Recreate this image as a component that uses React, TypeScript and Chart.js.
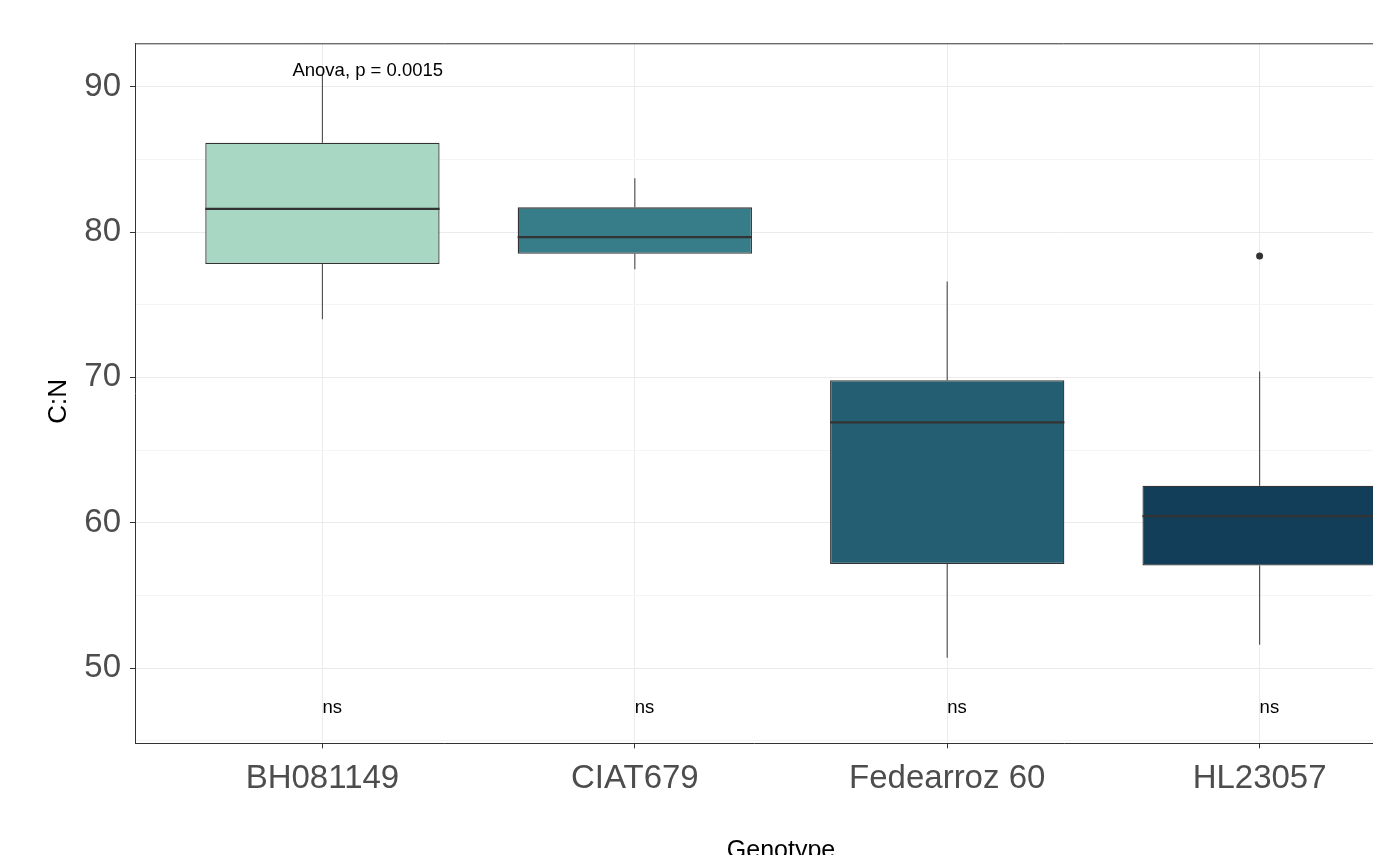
import React, { useEffect, useRef } from 'react';
import { Chart, registerables } from 'chart.js';

Chart.register(...registerables);

// ---- data ----
const categories = ['BH081149', 'CIAT679', 'Fedearroz 60', 'HL23057'];
const whiskerLow = [74.0, 77.45, 50.7, 51.6];
const q1 = [77.8, 78.5, 57.15, 57.05];
const medians = [81.6, 79.65, 66.9, 60.45];
const q3 = [86.15, 81.7, 69.8, 62.55];
const whiskerHigh = [90.9, 83.7, 76.6, 70.4];
const outlierGroup = [3];
const outlierValue = [78.35];
const yTickValues = [45, 50, 55, 60, 65, 70, 75, 80, 85, 90];
const sigLabels = ['ns', 'ns', 'ns', 'ns'];
const sigLabelValue = 46.9;
const anovaText = 'Anova, p = 0.0015';
const anovaAt = { x: -0.096, y: 90.76 };
const xTitle = 'Genotype';
const yTitle = 'C:N';

// ---- styles ----
const boxColors = ['#A8D8C3', '#377C89', '#245E72', '#123E5A'];
const FONT = "'Liberation Sans', Arial, Helvetica, sans-serif";

const boxPlugin = {
  id: 'boxExtras',
  beforeDatasetsDraw(chart: any) {
    const { ctx, chartArea } = chart;
    const xs = chart.scales.x;
    const ys = chart.scales.y;
    ctx.save();
    ctx.beginPath();
    ctx.rect(chartArea.left, chartArea.top, chartArea.right - chartArea.left, chartArea.bottom - chartArea.top);
    ctx.clip();
    ctx.strokeStyle = '#555555';
    ctx.lineWidth = 1.2;
    categories.forEach((_, i) => {
      const px = xs.getPixelForValue(i);
      ctx.beginPath();
      ctx.moveTo(px, ys.getPixelForValue(q3[i]));
      ctx.lineTo(px, ys.getPixelForValue(whiskerHigh[i]));
      ctx.moveTo(px, ys.getPixelForValue(q1[i]));
      ctx.lineTo(px, ys.getPixelForValue(whiskerLow[i]));
      ctx.stroke();
    });
    ctx.restore();
  },
  afterDatasetsDraw(chart: any) {
    const { ctx, chartArea } = chart;
    const xs = chart.scales.x;
    const ys = chart.scales.y;
    const meta = chart.getDatasetMeta(0);
    ctx.save();
    ctx.beginPath();
    ctx.rect(chartArea.left, chartArea.top, chartArea.right - chartArea.left, chartArea.bottom - chartArea.top);
    ctx.clip();
    // medians
    ctx.strokeStyle = '#333333';
    ctx.lineWidth = 2.3;
    categories.forEach((_, i) => {
      const bar: any = meta.data[i];
      const half = bar.width / 2;
      const py = ys.getPixelForValue(medians[i]);
      ctx.beginPath();
      ctx.moveTo(bar.x - half, py);
      ctx.lineTo(bar.x + half, py);
      ctx.stroke();
    });
    ctx.restore();

    // annotations
    ctx.save();
    ctx.fillStyle = '#000000';
    ctx.font = `18.5px ${FONT}`;
    ctx.textAlign = 'left';
    ctx.textBaseline = 'alphabetic';
    sigLabels.forEach((t, i) => {
      ctx.fillText(t, xs.getPixelForValue(i), ys.getPixelForValue(sigLabelValue));
    });
    ctx.fillText(anovaText, xs.getPixelForValue(anovaAt.x), ys.getPixelForValue(anovaAt.y));

    // panel top border
    ctx.strokeStyle = '#333333';
    ctx.lineWidth = 1;
    ctx.beginPath();
    ctx.moveTo(chartArea.left, chartArea.top + 0.5);
    ctx.lineTo(chartArea.right, chartArea.top + 0.5);
    ctx.stroke();

    // axis titles
    ctx.fillStyle = '#000000';
    ctx.font = `25px ${FONT}`;
    ctx.textAlign = 'center';
    ctx.textBaseline = 'alphabetic';
    ctx.fillText(xTitle, xs.getPixelForValue(1.5) - 10, 858);
    ctx.save();
    ctx.translate(66, (chartArea.top + chartArea.bottom) / 2 + 8);
    ctx.rotate(-Math.PI / 2);
    ctx.font = `26px ${FONT}`;
    ctx.fillText(yTitle, 0, 0);
    ctx.restore();
    ctx.restore();
  },
};

export default function App() {
  const ref = useRef<HTMLCanvasElement | null>(null);
  useEffect(() => {
    if (!ref.current) return;
    const chart = new Chart(ref.current, {
      type: 'bar',
      data: {
        datasets: [
          {
            type: 'bar',
            data: categories.map((_, i) => ({ x: i, y: [q1[i], q3[i]] })) as any,
            backgroundColor: boxColors,
            borderColor: '#333333',
            borderWidth: 1.3,
            borderSkipped: false,
            barPercentage: 0.75,
            categoryPercentage: 1,
          } as any,
          {
            type: 'scatter',
            data: outlierGroup.map((g, i) => ({ x: g, y: outlierValue[i] })),
            backgroundColor: '#333333',
            borderWidth: 0,
            pointRadius: 3.5,
          } as any,
        ],
      },
      options: {
        animation: false,
        responsive: true,
        maintainAspectRatio: false,
        layout: { autoPadding: false, padding: { top: 43.3, right: 0, left: 0, bottom: 0 } },
        plugins: { legend: { display: false }, tooltip: { enabled: false } },
        scales: {
          x: {
            type: 'linear',
            min: -0.6,
            max: 3.363,
            offset: false,
            afterBuildTicks: (scale: any) => {
              scale.ticks = categories.map((_, i) => ({ value: i }));
            },
            afterFit: (scale: any) => {
              scale.height = 111.7;
              scale.paddingRight = 0;
              scale.paddingLeft = 0;
            },
            ticks: {
              callback: (v: any) => categories[Math.round(Number(v))] ?? '',
              color: '#4D4D4D',
              font: { family: FONT, size: 33 },
              padding: 11,
              maxRotation: 0,
              autoSkip: false,
            },
            grid: {
              offset: false,
              color: '#EBEBEB',
              lineWidth: 1,
              tickLength: 5,
              tickColor: '#333333',
              tickWidth: 1,
            },
            border: { display: true, color: '#333333', width: 1 },
          },
          y: {
            type: 'linear',
            min: 44.82,
            max: 92.99,
            afterBuildTicks: (scale: any) => {
              scale.ticks = yTickValues.map((v) => ({ value: v }));
            },
            afterFit: (scale: any) => {
              scale.width = 135;
            },
            ticks: {
              callback: (v: any) => (Number(v) % 10 === 0 ? String(v) : ''),
              color: '#4D4D4D',
              font: { family: FONT, size: 33 },
              padding: 9,
              autoSkip: false,
            },
            grid: {
              color: (c: any) => (c.tick && c.tick.value % 10 === 0 ? '#EBEBEB' : '#F4F4F4'),
              lineWidth: 1,
              tickLength: 5,
              tickColor: (c: any) => (c.tick && c.tick.value % 10 === 0 ? '#333333' : 'rgba(0,0,0,0)'),
              tickWidth: 1,
            },
            border: { display: true, color: '#333333', width: 1 },
          },
        },
      },
      plugins: [boxPlugin],
    });
    return () => chart.destroy();
  }, []);

  return (
    <div style={{ position: 'absolute', left: 0, top: 0, width: 1373, height: 855, background: '#ffffff' }}>
      <canvas ref={ref} />
    </div>
  );
}
